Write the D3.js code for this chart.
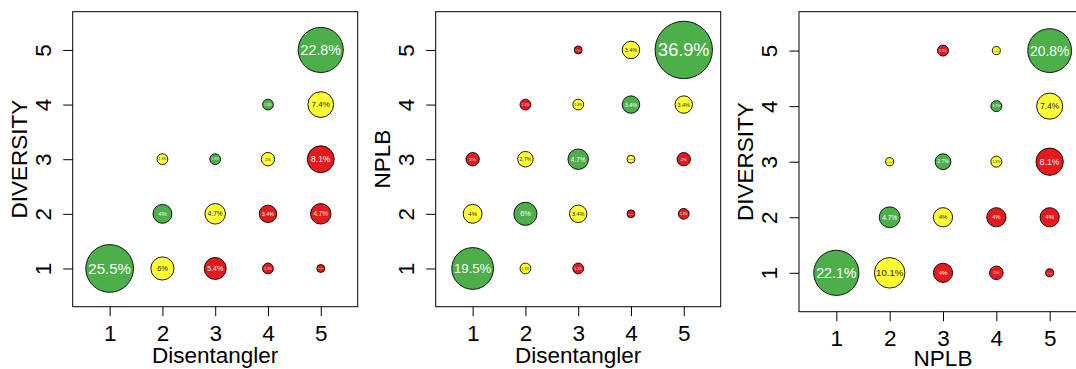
<!DOCTYPE html>
<html>
<head>
<meta charset="utf-8">
<script src="https://cdn.jsdelivr.net/npm/d3@7"></script>
<style>
  body { margin: 0; background: #fff; }
  svg { display: block; font-family: "Liberation Sans", Arial, Helvetica, sans-serif; }
</style>
</head>
<body>
<script>
"use strict";

// rating levels on both axes
const levels = [1, 2, 3, 4, 5];

// panel 1: Disentangler (x) vs DIVERSITY (y)
const disDivX   = [5, 4, 5, 2, 3, 4, 5, 2, 3, 4, 5, 1, 2, 3, 4, 5];
const disDivY   = [5, 4, 4, 3, 3, 3, 3, 2, 2, 2, 2, 1, 1, 1, 1, 1];
const disDivPct = [22.8, 1.3, 7.4, 1.3, 1.3, 2, 8.1, 4, 4.7, 3.4, 4.7, 25.5, 6, 5.4, 1.3, 0.7];

// panel 2: Disentangler (x) vs NPLB (y)
const disNplbX   = [3, 4, 5, 2, 3, 4, 5, 1, 2, 3, 4, 5, 1, 2, 3, 4, 5, 1, 2, 3];
const disNplbY   = [5, 5, 5, 4, 4, 4, 4, 3, 3, 3, 3, 3, 2, 2, 2, 2, 2, 1, 1, 1];
const disNplbPct = [0.7, 3.4, 36.9, 1.3, 1.3, 3.4, 3.4, 2, 2.7, 4.7, 0.7, 2, 4, 6, 3.4, 0.7, 1.3, 19.5, 1.3, 1.3];

// panel 3: NPLB (x) vs DIVERSITY (y)
const nplbDivX   = [3, 4, 5, 4, 5, 2, 3, 4, 5, 2, 3, 4, 5, 1, 2, 3, 4, 5];
const nplbDivY   = [5, 5, 5, 4, 4, 3, 3, 3, 3, 2, 2, 2, 2, 1, 1, 1, 1, 1];
const nplbDivPct = [1.3, 0.7, 20.8, 1.3, 7.4, 0.7, 2.7, 1.3, 8.1, 4.7, 4, 4, 4, 22.1, 10.1, 4, 2, 0.7];

const colors = { agree: "#4DAF4A", near: "#FFFF33", far: "#E41A1C" };

const svg = d3.select("body").append("svg")
    .attr("width", 1076)
    .attr("height", 369);

// plot boxes (pixel layout of each panel)
const panels = [
  { xs: disDivX,  ys: disDivY,  pct: disDivPct,  xTitle: "Disentangler", yTitle: "DIVERSITY",
    left: 72.7, top: 11.7, right: 357.7, bottom: 306.7 },
  { xs: disNplbX, ys: disNplbY, pct: disNplbPct, xTitle: "Disentangler", yTitle: "NPLB",
    left: 435.7, top: 11.7, right: 720.7, bottom: 306.7 },
  { xs: nplbDivX, ys: nplbDivY, pct: nplbDivPct, xTitle: "NPLB",         yTitle: "DIVERSITY",
    left: 799, top: 11.7, right: 1087, bottom: 311.7 }
];

panels.forEach(drawPanel);

function drawPanel(p) {
  const x = d3.scaleLinear().domain([0.3, 5.7]).range([p.left, p.right]);
  const y = d3.scaleLinear().domain([0.3, 5.7]).range([p.bottom, p.top]);
  const unit = (p.bottom - p.top) / 5.4;
  // circle area proportional to the percentage
  const r = d3.scaleSqrt().domain([0, 100]).range([0, 0.865 * unit]);
  const fmt = d3.format("d");

  const g = svg.append("g");

  // box
  g.append("rect")
      .attr("x", p.left).attr("y", p.top)
      .attr("width", p.right - p.left).attr("height", p.bottom - p.top)
      .attr("fill", "none").attr("stroke", "#000").attr("stroke-width", 1);

  // x axis
  const xAxis = g.append("g")
      .attr("transform", `translate(0,${p.bottom})`)
      .call(d3.axisBottom(x).tickValues(levels).tickFormat(fmt).tickSize(9.5).tickSizeOuter(0));
  xAxis.select(".domain").remove();
  xAxis.selectAll("text")
      .attr("y", 34.5).attr("dy", null)
      .attr("font-size", 22.5).attr("fill", "#000")
      .attr("font-family", null);

  // y axis, labels parallel to the axis
  const yAxis = g.append("g")
      .attr("transform", `translate(${p.left},0)`)
      .call(d3.axisLeft(y).tickValues(levels).tickFormat(fmt).tickSize(9.5).tickSizeOuter(0));
  yAxis.select(".domain").remove();
  yAxis.selectAll("text")
      .attr("x", null).attr("dy", null)
      .attr("text-anchor", "middle")
      .attr("transform", "translate(-22,0) rotate(-90)")
      .attr("font-size", 22.5).attr("fill", "#000")
      .attr("font-family", null);
  g.selectAll(".tick line").attr("stroke", "#000");

  // axis titles
  g.append("text")
      .attr("x", (p.left + p.right) / 2)
      .attr("y", Math.min(p.bottom + 56, 366))
      .attr("text-anchor", "middle")
      .attr("font-size", 22.5)
      .text(p.xTitle);

  g.append("text")
      .attr("transform", `translate(${p.left - 46},${(p.top + p.bottom) / 2}) rotate(-90)`)
      .attr("text-anchor", "middle")
      .attr("font-size", 22.5)
      .text(p.yTitle);

  const cells = p.pct.map((v, i) => ({ x: p.xs[i], y: p.ys[i], v: v }));

  function fillOf(d) {
    const gap = Math.abs(d.x - d.y);
    return gap === 0 ? colors.agree : gap === 1 ? colors.near : colors.far;
  }

  g.selectAll(".bubble")
      .data(cells)
      .enter()
      .append("circle")
        .attr("class", "bubble")
        .attr("cx", d => x(d.x))
        .attr("cy", d => y(d.y))
        .attr("r", d => r(d.v))
        .attr("fill", fillOf)
        .attr("stroke", "#000")
        .attr("stroke-width", 0.9);

  g.selectAll(".pct")
      .data(cells)
      .enter()
      .append("text")
        .attr("class", "pct")
        .attr("x", d => x(d.x))
        .attr("y", d => y(d.y))
        .attr("dy", "0.36em")
        .attr("text-anchor", "middle")
        .attr("font-size", d => 0.63 * r(d.v))
        .attr("fill", d => fillOf(d) === colors.near ? "#222" : "#fff")
        .text(d => d.v + "%");
}
</script>
</body>
</html>
